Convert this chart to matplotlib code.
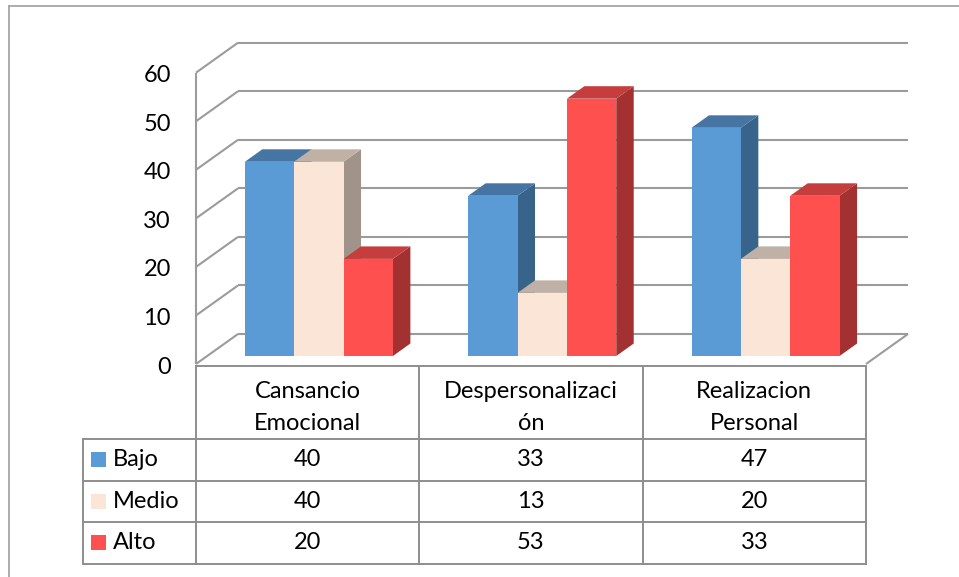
import numpy as np
import matplotlib
matplotlib.use('Agg')
import matplotlib.pyplot as plt
from matplotlib.patches import Polygon, Rectangle
from matplotlib.lines import Line2D

plt.rcParams['font.family'] = ['Lato', 'DejaVu Sans']

# -- data -- #
categories = ['Cansancio\nEmocional', 'Despersonalizaci\nón', 'Realizacion\nPersonal']
series = ['Bajo', 'Medio', 'Alto']
bajo = [40, 33, 47]
medio = [40, 13, 20]
alto = [20, 53, 33]
values = [bajo, medio, alto]
yticks = [0, 10, 20, 30, 40, 50, 60]

# front / top / side shades for each series
front_c = ['#5B9BD5', '#FBE5D6', '#FF5050']
top_c = ['#4675A3', '#BFB1A5', '#C53D3D']
side_c = ['#38638B', '#A09389', '#A33131']
grid_c = '#9B9B9B'
table_c = '#8E8E8E'
fs = 17

W, H = 959, 577
def fx(px): return px / W
def fy(py): return 1 - py / H

fig = plt.figure(figsize=(9.59, 5.77), dpi=100)

# outer frame (runs off the right and bottom edges)
fig.add_artist(Line2D([fx(9), 1], [fy(6), fy(6)], color='#A6A6A6', lw=1.3))
fig.add_artist(Line2D([fx(9), fx(9)], [fy(6), 0], color='#A6A6A6', lw=1.3))

# main axes: x in category units, y in value units on the front plane
x_left, x_right, y0_px, y60_px = 196, 866, 364, 72.7
ax = fig.add_axes([fx(x_left), fy(y0_px), fx(x_right) - fx(x_left), fy(y60_px) - fy(y0_px)])
ax.set_xlim(-0.5, 2.5)
ax.set_ylim(0, 60)
ax.axis('off')

px_per_cat = (x_right - x_left) / 3
px_per_val = (y0_px - y60_px) / 60
DX = 42 / px_per_cat   # depth offset of the back wall
DY = 30 / px_per_val

def line(xs, ys, **kw):
    ax.add_line(Line2D(xs, ys, color=grid_c, lw=1.5, clip_on=False,
                       solid_capstyle='butt', **kw))

# walls: back gridlines, side-wall diagonals, front vertical, floor
for v in yticks:
    line([-0.5 + DX, 2.5 + DX], [v + DY, v + DY], zorder=1)
    line([-0.5, -0.5 + DX], [v, v + DY], zorder=1)
    ax.text(-0.5 - 25 / px_per_cat, v - 3 / px_per_val, str(v), ha='right', va='center',
            fontsize=fs, color='black')
line([-0.5, -0.5], [0, 60], zorder=1)
line([2.5, 2.5 + DX], [0, DY], zorder=1)

# 3D bars
bw = 0.221
zf, zb = 0.267, 0.683
zoff = [(i - 1) * bw for i in range(3)]
order = 2
for c in range(len(categories)):
    for s in range(len(series)):
        v = values[s][c]
        x0 = c + zoff[s] - bw / 2 + zf * DX
        x1 = x0 + bw
        b = zf * DY
        ddx, ddy = (zb - zf) * DX, (zb - zf) * DY
        ax.add_patch(Polygon([[x1, b], [x1 + ddx, b + ddy], [x1 + ddx, b + v + ddy], [x1, b + v]],
                             closed=True, facecolor=side_c[s], edgecolor='none',
                             clip_on=False, zorder=order))
        ax.add_patch(Polygon([[x0, b + v], [x1, b + v], [x1 + ddx, b + v + ddy], [x0 + ddx, b + v + ddy]],
                             closed=True, facecolor=top_c[s], edgecolor='none',
                             clip_on=False, zorder=order + 0.1))
        ax.bar(x0, v, width=bw, bottom=b, align='edge', color=front_c[s],
               edgecolor='none', clip_on=False, zorder=order + 0.2)
        order += 1

# -- data table -- #
tab_top, tab_bot = 366, 563.5
row_px = 41.5
tab = fig.add_axes([fx(x_left), fy(tab_bot), fx(x_right) - fx(x_left), fy(tab_top) - fy(tab_bot)])
tab.set_xlim(-0.5, 2.5)
nrows = (tab_bot - tab_top) / row_px
tab.set_ylim(nrows, 0)
tab.axis('off')
hdr = nrows - 3
leg_x = -0.5 - (196 - 82.7) / px_per_cat

def tline(xs, ys):
    tab.add_line(Line2D(xs, ys, color=table_c, lw=1.4, clip_on=False))

tline([-0.5, 2.5], [0, 0])
for r in range(4):
    tline([leg_x, 2.5], [hdr + r, hdr + r])
tline([leg_x, leg_x], [hdr, nrows])
for k in range(4):
    tline([-0.5 + k, -0.5 + k], [0, nrows])

for c, name in enumerate(categories):
    lines = name.split('\n')
    for j, t in enumerate(lines):
        tab.text(c, (392 + 31 * j - tab_top) / row_px, t, ha='center', va='center',
                 fontsize=fs, color='black')
    for s in range(len(series)):
        tab.text(c, hdr + s + 0.5, str(values[s][c]), ha='center', va='center',
                 fontsize=fs, color='black')

sq = 15 / px_per_cat
for s, name in enumerate(series):
    yc = hdr + s + 0.5
    tab.add_patch(Rectangle((leg_x + 8.3 / px_per_cat, yc - 7.5 / row_px), sq, 15 / row_px,
                            facecolor=front_c[s], edgecolor='none', clip_on=False))
    tab.text(leg_x + 30 / px_per_cat, yc, name, ha='left', va='center',
             fontsize=fs, color='black')

fig.savefig('out.png', dpi=100)
